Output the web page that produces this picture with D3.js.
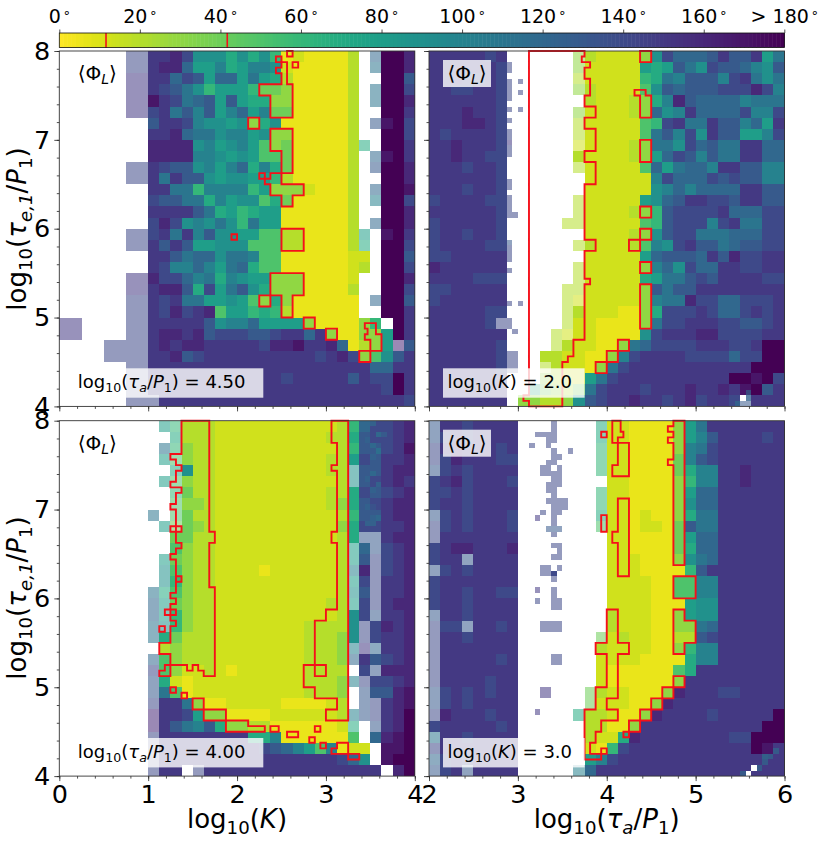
<!DOCTYPE html>
<html>
<head>
<meta charset="utf-8">
<script src="https://cdn.jsdelivr.net/npm/d3@7"></script>
<style>
  html, body { margin: 0; padding: 0; background: #fff; }
  svg { display: block; }
  text { font-family: "DejaVu Sans", sans-serif; fill: #000; }
</style>
</head>
<body>
<svg id="chart" width="830" height="843"></svg>
<script>
// cell strings: letters index angleLevels, lower case = same angle, faded, '.' = no data
const angleLevels = [6, 13, 20, 30, 40, 50, 60, 70, 80, 90, 100, 110, 120, 130, 140, 150, 160, 170, 180];

const gridTopLeft = [
  "......oo PPQOJJJH JHJGABAA AAC.mSSQ",
  "......oo PQQMIIKH IKKJBAAA AAC.lSSQ",
  "......pp PPMONIMM ILIHCAAA AAC..SSN",
  "......pp PONLJGII IGEEDAAA AAC.lSSO",
  "......pp RPOLMNIN IHHDDAAA AAC.lSSQ",
  "......pp OPLNKNIK MIKEEAAA AAC..SSP",
  "........ NPPOKJJI JDHJAAAA AAC.nRSO",
  "........ PPQMLLJK KIJDDAAA AAC..SSO",
  "........ QQQQJKIJ KIFDEAAA AACh.SSP",
  "........ QQQQKKJI JIFFEAAA AAC.mRSP",
  "......oo PONNJKIK MHKHEAAA AAC.nSSQ",
  "......oo PLPNNJIJ JIIGCAAA AAC..SSQ",
  "........ PPLLGKKK KGIDDDBA AAC.mSSR",
  "........ ONNLLHKI JJFHEAAA AAC.kSSO",
  "........ PPPPNLHI GHIIAAAA AAC..SSQ",
  "........ OQOJKJLJ GLIIAAAA AAC.mSSQ",
  "......oo OPLPKNJJ IIFFCCAA AACi.RSP",
  "......oo PNPNIIJJ JFFFCCAA AACh.SSO",
  "........ PPNLMMJL LKFFAAAA AABB.SSN",
  "........ POKKMKIL MHFFAAAA AABC.SSO",
  "......pp QOOMKLHK JIIDDDAA AAB..SSQ",
  "......pp PQQNHOIL NJHDDDAA AAC..SSO",
  "......oo POPLLIIJ IFDHDAAA AAA.mSSN",
  "......oo POQOPQFI IGHGCAAA AAA..SSP",
  "pp....oo PPPPPNJK KMIIIIDA AAADG.SP",
  "pp....oo PQQPQNOO ONNOPPMP DAADDISP",
  "....oooo PQPQQPPP PPOQQRPP QMACDIqN",
  "....oooo PPQNOPPP PPPPPPPO PQODFJNP",
  "......oo PPPPPPPP PPPPPPPP PPPPMMPP",
  "......oo PPPPPPPP PPPPOPPP PPNPOOSP",
  "......oo PPPPPPPP PPPPPPPP PPPPPOSP",
  "......oo oPPPPPPP PPPPPPPP PPPPPPPO"
];

const gridTopRight = [
  "PPPPPOP. .....dCB BBBDJOMM MNPNNPIL",
  "PPPPPPO. .....dBB BBBIHINL JONNMKJN",
  "PPPOOPO. .....cBB BBBGHLKN NNKOPLJL",
  "PPOOPPO. .....dCB BBBFJNMN NNOOOQOK",
  "PPPPPPO. ......CB BBCDHKQN MMMMKLLL",
  "PPPQPPO. .....dBB BBCDMJKP MMMMOKKO",
  "PPPQQPO. .....cBB BBBFGOPL LPNNKMIP",
  "POPPPPO. .....cBB BBBFLNKO JPNNIIKO",
  "PPQPPPO. .....bBB BBCDLLJO MNLLPPMM",
  "PPQPPOO. .....CBB BBCDIMON KNLLPPMM",
  "PPPOPPO. .....cBB BBBFMILM MKPPNNKK",
  "PPPPPPO. ......BB BBBBKOMM MONONNKK",
  "PPPOPPO. ......BB BBBBJKMK MMMMPPNN",
  "OPPPPOO. .....cBB BBBIJMNP POONPPNN",
  "PPPPPPO. .....cBB BBCDGNOO OOPMMMOO",
  "OPPPPPO. ....ccBB BBBFGNOO OKOPLLOO",
  "OPPOPPO. ......BB BBCDJNOO LLLMMMOO",
  "OPPPPOO. .....cCB BBCFKJOP NNLMNNOO",
  "OOPPPPP. ......BB BBBIMNNN MPNQOOPP",
  "QPPPPPP. .....cBB BBBDKMJO MMPPOOPP",
  "PPPPOOO. .....cBB BBBHILLN ONPPPPOO",
  "OOPPPPP. ....ccBB BBBDNLNN PPPPPPPP",
  "OPPPPPP. ....cbBB BBBDKLLQ OOMMOOOP",
  "PPPPPOO. ....cCBB BAADHOOO POMMOPOP",
  "PPPPPOo. ....cBBA AAADLOOP PPOONNOP",
  "PPPPPPP. ...cbBBA AAAJOPPP QQOOOOPP",
  "PPPPPPO. ...cCBBA ADLMOOOO PPPOOPSS",
  "PPPPPPOo ..CCBBAA DKOPPPPO OOOMOOSS",
  "PPPPPPOo ..cCBBAD LOPPPPPP PPPPPSSS",
  "PPPPPPP. ..DCBBIL OPPPPPPP PPPSSRSO",
  "PPPPPPP. .HEDCELO PPPOPPPQ PPQPRSNP",
  "PPPPPPP. DDCCDJNO PPQPPOPQ OPPOnPPP"
];

const gridBottomLeft = [
  "........ .igCCCBB BBBBBBBB BCGMOOPQ",
  "........ ..hCCCBB BBBBBBBB CCHNOOPQ",
  "........ .lgDCCBB BBBBBBBB BCGNNOPR",
  "........ .ifDCCBB BBBBBBBB CCIONPPQ",
  "........ ..hJCCBB BBBBBBBB CCjNNPQQ",
  "........ .ifDCCBB BBBBBBBB BCjNOPQP",
  "........ ..gECCBB BBBBBBBB CCHONOPQ",
  "........ ..fDDCBB BBBBBBBB CDHNOPQQ",
  "........ l.fECCBB BBBBBBBB BCGNNPQQ",
  "........ .ieEDCBB BBBBBBBB BDHOOPPQ",
  "........ ..EECCBB BBBBBBBB BCHnnPQQ",
  "........ ..FDCCBB BBBBBBBB BCiMnOPQ",
  "........ .iEDCCBB BBBBBBBB BCiNoOPQ",
  "........ .jFDCCBB BBABBBBB BCkQoOPQ",
  "........ .jGDCCBB BBBBBBBB BCiOoPPQ",
  "........ lhFDCCBB BBBBBBBB BCjNoPPQ",
  "........ miEDCCBB BBBBBBBB CCiOoPQQ",
  "........ miGDCCBB BBBBBBBB BCJOnPPQ",
  "........ ljGDCCBB BBBBBBCC CCJoOQPQ",
  "........ lHECCCBB BBBBBBCC CDJoOPPQ",
  "........ .CDCCCBB BBBBBBCC CDkpmPPQ",
  "........ mFDCCCBB BBBBBBCC CDmPNOPQ",
  "........ oFDBBCBA BBBBBBCC CC.OnQQQ",
  "........ nHBABBBB BBBBBBCC CDkoOOPQ",
  "........ nLFABBBB BBBBBBCC CD.nNNQR",
  "........ oPPLDAAB BBBBAAAA BC.noPQR",
  "........ qPPOIDDA AAABBBBB BCknoPQS",
  "........ qPNLKNHD DCCAAAAA ABh.nPQS",
  "........ oPPPPPPP PHHKAAAA AAF.MQRS",
  "........ oPPPPPPP PPONMKIF KABB.RRS",
  "........ oPPPPPPP PPPPPPPP POMJ.RSS",
  "........ oPP.oPPP PPPPPPPP PPPPP.QS"
];

const gridBottomRight = [
  "nPPOPPPP .......h BBAAAADI LPPPPPPP",
  "nOPOPPPP .......h BBAAAADI KNPPPPOP",
  "oPQPPPOP .......g BBAAAADK LOPPPPPP",
  "oOQPPPOO .......g BBAAAAEK NOPPPPPP",
  "nOPOPPPP .......g BBAAAAEH KKPPQPPP",
  "OPQOPPPO ........ BBAAAADG KKPPQPPP",
  "OOPOPPPP .......g BBAAAADI MMPPPPPP",
  "OPPOPPPP .......g BBAAAADJ MMPPPPPP",
  "nOPOPPPO .......h BBABAADH LLPPPPPP",
  "oOPOPPPO .......f BBABBAEN LLPPPPPP",
  "oPPPPPPP ........ BBAAAAEI MMPPPPPP",
  "OPQQPPPQ ........ BBAAAAEH MMPPPPPP",
  "OPPnPPPP ........ BBBAAADJ LMPPPPPP",
  "nOPOPPPP ........ BBBAAAAG NPPPPPPP",
  "OPPPPPPP ........ BBBBAAFF KKPPPPPP",
  "OPPOPPOO ........ BBBBAAFF KKPPPPPP",
  "OPPOPPPP ........ BBBBAAAI JJPPPPPP",
  "nPPOPPPP ........ CBBBAADI JJPPPPPP",
  "oOOnPPOP ........ CBBBAADD LMPPPPPP",
  "oPPOPPPP .......e BCBBAACC NOPPPPPP",
  "oPPPPPPP .......C BBBBAADG KKPPPPPP",
  "oPPPPPOP .......B BBBAAAAH KKPPPPPP",
  "oPPPPPPP .......B AAAAAAFH PPPPPPPP",
  "oPPPPOPP .......B AAAAAADP PPPPPPPP",
  "nOPOPOPP ......eC BBAAADQP PPOOPPPP",
  "nOPOPPPP ......eB BBAADQPP PPPPPPPP",
  "oQPPPOPP .....hCC BAADQPPP POPPPPPS",
  "OPPPPPOP ......CC AADPPPPP PPPPPPSS",
  "lPPOPPPP ......CB BHQPPPPP PPPOOSSS",
  "oPPPPPPP ......BA GOPPPPPP PPPPPSRP",
  "mOPOPPPP ......IK OPPPPPPP PPPPPPPP",
  "nOPnPPPP .....kMP PPPPPPPP PPPPPPPP"
];

// sparse half-size cells: [column/16, row/16, angle code]
const fineTopRight = [
  [14,2,"o"],[14,3,"o"],[14,5,"o"],[14,6,"o"],[14,7,"o"],[14,8,"o"],[14,10,"o"],[14,12,"o"],
  [14,14,"o"],[14,15,"o"],[14,16,"p"],[14,17,"o"],[14,18,"o"],[14,23,"o"],[14,24,"o"],
  [14,26,"o"],[14,27,"o"],[14,28,"o"],[14,29,"o"],[15,29,"o"],[16,5,"o"],[16,7,"o"],[16,10,"o"],
  [14,34,"n"],[14,35,"o"],[14,36,"o"],[14,37,"o"],[14,39,"o"],[14,45,"o"],[16,45,"o"],
  [14,48,"o"],[14,49,"o"],[15,50,"o"],[55,63,"l"],[56,62,"."],[57,61,"l"],[57,62,"m"]
];

const fineBottomLeft = [
  [55,0,"m"],[55,1,"m"],[56,0,"l"],[57,2,"k"],[55,3,"m"],[56,4,"l"],[57,5,"k"],[56,6,"m"],
  [56,9,"l"],[55,10,"m"],[57,11,"l"],[55,15,"m"],[56,15,"n"],[56,17,"m"],[57,17,"l"],
  [55,18,"l"],[56,18,"l"],[58,2,"m"],[56,12,"m"]
];

const fineBottomRight = [
  [22,0,"o"],[22,1,"o"],[19,2,"o"],[20,2,"o"],[21,2,"o"],[22,2,"o"],[21,3,"o"],[22,3,"o"],
  [18,4,"o"],[21,4,"o"],[22,5,"o"],[25,5,"o"],[22,6,"o"],[23,6,"o"],[21,7,"o"],[22,7,"o"],
  [20,8,"o"],[21,8,"o"],[23,8,"o"],[20,9,"o"],[21,9,"o"],[22,9,"o"],[23,9,"o"],
  [22,10,"o"],[23,10,"o"],[22,11,"o"],[23,11,"o"],[21,11,"o"],[21,12,"o"],[22,12,"o"],[22,13,"o"],
  [21,14,"o"],[22,14,"o"],[23,14,"o"],[24,14,"o"],[22,15,"o"],[23,15,"o"],[24,15,"o"],
  [20,16,"o"],[22,16,"o"],[23,16,"o"],[19,17,"p"],[22,17,"o"],[22,18,"o"],
  [21,19,"n"],[22,19,"n"],[23,19,"n"],[22,20,"o"],[22,22,"o"],[23,22,"o"],[23,23,"o"],
  [22,24,"o"],[23,24,"o"],[20,26,"o"],[21,26,"o"],[23,26,"o"],[20,27,"o"],[21,27,"o"],[22,27,"O"],
  [22,28,"o"],[19,30,"p"],[22,30,"o"],[22,31,"o"],[19,32,"o"],[22,32,"o"],[23,32,"o"],
  [22,33,"o"],[23,33,"o"],[20,36,"o"],[21,36,"o"],[22,36,"o"],[23,36,"o"],
  [20,37,"o"],[21,37,"o"],[22,37,"o"],[23,37,"o"],[22,42,"o"],[23,42,"o"],[22,43,"o"],[23,43,"o"],
  [20,48,"p"],[21,48,"p"],[20,49,"p"],[21,49,"p"],[19,52,"p"],
  [56,63,"l"],[57,63,"."],[58,62,"."],[59,62,"l"],[60,61,"l"],[60,60,"k"],[61,60,"l"],[62,59,"l"]
];

// outlines on the 1/16 grid, as x0,y0,x1,y1,...: run across to x, then along to y, and so on
const contourTopLeft = [
  [41,0,42,1],[39,1,40,2],[42,2,43,3],
  [40,2,41,6,42,12,38,8,36,6,40,4,39,3],
  [34,12,36,14],[38,14,42,22,40,18],[36,22,37,23],
  [38,22,40,24,44,26,42,28,40,26,38,24,37,23],
  [40,32,44,36],[31,33,32,34],[38,40,44,44,42,48,40,44],[36,44,38,46],
  [44,48,46,50],[48,50,50,52],[55,49,57,51,58,54,56,52,55,51,55.5,50],[54,54,56,56]
];

const contourTopRight = [
  [18,0,28,1,27.5,2,29,3,28,5,29,8,28,10,30,12,28,14,30,18,28,20,30,24,28,34,30,36,28,41,29,42,28,52,26,55,25,56,24,64,18,63,17,62],
  [38,0,40,2],[37,7,39,8,40,12,38,8],[38,16,40,20],[38,28,40,30],[38,32,40,34],[36,34,38,36],
  [38,38,40,40],[38,42,40,50],[34,52,36,54],[32,54,34,56],[30,56,32,58]
];

const contourBottomLeft = [
  [22,0,27,20,28,22,27,30,28,46,26,45,25,44,24,45,23,44,20,42,18,40,20,37,21,36,20,33,21,32,20,31,21,25,20,24,21,23,22,22,21,16,20,15,21,13,22,12,20,11,21,9,22,8,21,7,20,6],
  [19,44,20,46,18,45],[20,19,22,20],[21,28,22,29],[19,34,21,35],[18,37,19,38],
  [49,0,52,54,48,52,50,50,46,48,44,44,46,36,48,34,50,22,49,20,50,9,49,8,50,4],
  [46,44,48,46],[20,48,21,49],[22,49,23,50],
  [24,50,26,52,30,54,34,55,37,56,30,54,26,52],
  [38,55,39.5,56],[41,56,43,57],[46,55,47,56],[45,57,46,58],[47,58,48,59],
  [49,59,50,58,52,60,54,61,52,60]
];

const contourBottomRight = [
  [31,2,32,3],[33,0,34.5,2,35,3,34,4],[34,4,36,10,33,8],[34,14,36,28,34,22,33,20],[31,17,32,20],
  [44,0,46,26,44,8,43,7,44,4,43,3,44,2,43,1],[44,28,48,32],[44,34,46,36,48,40,46,42],
  [32,34,34,40,36,42,34,50,32,52,34,54,31,56,30,58,29,60,31,61,28,52,30,48,32,42,30,40],
  [31,59,32,60],[44,46,46,48],[42,48,44,50],[40,50,42,52],[38,52,40,54],[36,54,38,56],[35,56,36,57]
];

const yTicks = [4, 5, 6, 7, 8];
const xTicksLeft = [0, 1, 2, 3, 4];
const xTicksRight = [2, 3, 4, 5, 6];
const colorTicks = [0, 20, 40, 60, 80, 100, 120, 140, 160, 180];
const colorLevels = [11.6, 41.7];

// label pieces: "" plain, "i" italic, "s" subscript, "si" italic subscript
const labelPhi = [["⟨Φ", ""], ["L", "si"], ["⟩", ""]];
const labelTauA = [["log", ""], ["10", "s"], ["(", ""], ["τ", "i"], ["a", "si"], ["/", ""], ["P", "i"], ["1", "s"], [")", ""]];
const labelK = [["log", ""], ["10", "s"], ["(", ""], ["K", "i"], [")", ""]];
const labelTauE = [["log", ""], ["10", "s"], ["(", ""], ["τ", "i"], ["e,1", "si"], ["/", ""], ["P", "i"], ["1", "s"], [")", ""]];

const svg = d3.select("#chart");
const color = v => d3.interpolateViridis(1 - v / 180);
const fadedOpacity = 0.55;
const red = "#f5101a";

function mathText(sel, parts, size) {
  let shift = 0;
  parts.forEach(([str, kind]) => {
    const sub = kind[0] === "s";
    const want = sub ? size * 0.22 : 0;
    sel.append("tspan")
      .attr("dy", want - shift)
      .attr("font-size", sub ? size * 0.7 : size)
      .attr("font-style", kind.includes("i") ? "italic" : "normal")
      .text(str);
    shift = want;
  });
}

function decode(ch) {
  const upper = ch.toUpperCase();
  return { angle: angleLevels[upper.charCodeAt(0) - 65], faded: ch !== upper };
}

function drawPanel(p) {
  const x = d3.scaleLinear().domain(p.xDomain).range([p.left, p.left + 355.5]);
  const y = d3.scaleLinear().domain([4, 8]).range([p.top + 355.4, p.top]);
  const xAt = i => x(p.xDomain[0] + i / 16);
  const yAt = j => y(8 - j / 16);
  const g = svg.append("g");

  const cells = [];
  p.grid.forEach((row, r) => {
    row.replace(/ /g, "").split("").forEach((ch, c) => {
      if (ch !== ".") cells.push({ c: c * 2, r: r * 2, n: 2, ch });
    });
  });
  (p.fine || []).forEach(([c, r, ch]) => cells.push({ c, r, n: 1, ch }));

  g.selectAll("rect.cell").data(cells).join("rect")
    .attr("class", "cell")
    .attr("x", d => xAt(d.c))
    .attr("y", d => yAt(d.r))
    .attr("width", d => xAt(d.c + d.n) - xAt(d.c))
    .attr("height", d => yAt(d.r + d.n) - yAt(d.r))
    .attr("shape-rendering", "crispEdges")
    .attr("fill", d => d.ch === "." ? "#fff" : color(decode(d.ch).angle))
    .attr("fill-opacity", d => d.ch !== "." && decode(d.ch).faded ? fadedOpacity : 1);

  // red outlines
  g.selectAll("path.outline").data(p.contours).join("path")
    .attr("class", "outline")
    .attr("fill", "none")
    .attr("stroke", red)
    .attr("stroke-width", 1.9)
    .attr("stroke-linejoin", "miter")
    .attr("d", pts => {
      let d = `M${xAt(pts[0])},${yAt(pts[1])}`;
      for (let i = 2; i < pts.length; i += 2) {
        d += `H${xAt(pts[i])}V${yAt(pts[i + 1])}`;
      }
      return d + `H${xAt(pts[0])}Z`;
    });

  // label boxes
  const boxes = [
    { bx: 14, by: 9, w: 48, h: 27, parts: labelPhi, size: 20, anchor: "middle" },
    { bx: 14, by: 317.3, w: p.boxWidth, h: 29.4, parts: p.note, size: 18, anchor: "start", tail: p.noteValue }
  ];
  boxes.forEach(b => {
    g.append("rect")
      .attr("x", p.left + b.bx).attr("y", p.top + b.by)
      .attr("width", b.w).attr("height", b.h)
      .attr("fill", "#fff").attr("fill-opacity", 0.8);
    const t = g.append("text")
      .attr("x", b.anchor === "middle" ? p.left + b.bx + b.w / 2 : p.left + b.bx + 4.5)
      .attr("y", p.top + b.by + 20)
      .attr("text-anchor", b.anchor);
    mathText(t, b.parts, b.size);
    if (b.tail) {
      t.append("tspan").attr("dy", 0).attr("font-size", b.size).text(b.tail);
    }
  });

  // axes, minor then major
  const bottom = p.top + 355.4;
  const minorX = d3.range(p.xDomain[0], p.xDomain[1] + 0.01, 0.2);
  const minorY = d3.range(4, 8.01, 0.2);
  g.append("g").attr("transform", `translate(0,${bottom})`)
    .call(d3.axisBottom(x).tickValues(minorX).tickSize(2.5).tickFormat(""));
  g.append("g").attr("transform", `translate(${p.left},0)`)
    .call(d3.axisLeft(y).tickValues(minorY).tickSize(2.5).tickFormat(""));
  g.append("g").attr("transform", `translate(0,${bottom})`)
    .call(d3.axisBottom(x).tickValues(p.xTicks).tickSize(5).tickPadding(4)
      .tickFormat(p.showX ? d3.format("d") : ""));
  g.append("g").attr("transform", `translate(${p.left},0)`)
    .call(d3.axisLeft(y).tickValues(yTicks).tickSize(5).tickPadding(4)
      .tickFormat(p.showY ? d3.format("d") : ""));
  g.selectAll(".tick text").attr("font-size", 25.5).attr("font-family", "DejaVu Sans");
  g.selectAll(".tick line").attr("stroke", "#222").attr("stroke-width", 0.8);
  g.selectAll(".domain").remove();

  g.append("rect")
    .attr("x", p.left).attr("y", p.top)
    .attr("width", 355.5).attr("height", 355.4)
    .attr("fill", "none").attr("stroke", "#333").attr("stroke-width", 0.9);
}

const panels = [
  { left: 59.3, top: 51, xDomain: [0, 4], xTicks: xTicksLeft, grid: gridTopLeft, contours: contourTopLeft,
    note: labelTauA, noteValue: " = 4.50", boxWidth: 190, showX: false, showY: true },
  { left: 429, top: 51, xDomain: [2, 6], xTicks: xTicksRight, grid: gridTopRight, fine: fineTopRight, contours: contourTopRight,
    note: labelK, noteValue: " = 2.0", boxWidth: 141.6, showX: false, showY: false },
  { left: 59.3, top: 420.7, xDomain: [0, 4], xTicks: xTicksLeft, grid: gridBottomLeft, fine: fineBottomLeft, contours: contourBottomLeft,
    note: labelTauA, noteValue: " = 4.00", boxWidth: 190, showX: true, showY: true },
  { left: 429, top: 420.7, xDomain: [2, 6], xTicks: xTicksRight, grid: gridBottomRight, fine: fineBottomRight, contours: contourBottomRight,
    note: labelK, noteValue: " = 3.0", boxWidth: 141.6, showX: true, showY: false }
];
panels.forEach(drawPanel);

// axis titles
const axisTitles = [
  { parts: labelK, x: 237, y: 828, rotate: false },
  { parts: labelTauA, x: 606.7, y: 828, rotate: false },
  { parts: labelTauE, x: 26, y: 229, rotate: true },
  { parts: labelTauE, x: 26, y: 598, rotate: true }
];
axisTitles.forEach(a => {
  const t = svg.append("text")
    .attr("text-anchor", "middle")
    .attr("transform", a.rotate ? `translate(${a.x},${a.y}) rotate(-90)` : `translate(${a.x},${a.y})`);
  mathText(t, a.parts, 26);
});

// colour bar
const cbX = d3.scaleLinear().domain([0, 180]).range([59.3, 784.3]);
const cb = svg.append("g");
cb.selectAll("rect").data(d3.range(0, 180)).join("rect")
  .attr("x", d => cbX(d))
  .attr("y", 33)
  .attr("width", d => cbX(d + 1) - cbX(d) + 0.5)
  .attr("height", 14.5)
  .attr("fill", d => color(d + 0.5));
cb.selectAll("line.level").data(colorLevels).join("line")
  .attr("class", "level")
  .attr("x1", d => cbX(d)).attr("x2", d => cbX(d))
  .attr("y1", 33).attr("y2", 47.5)
  .attr("stroke", red).attr("stroke-width", 1.6);
cb.append("rect")
  .attr("x", cbX(0)).attr("y", 33).attr("width", cbX(180) - cbX(0)).attr("height", 14.5)
  .attr("fill", "none").attr("stroke", "#111").attr("stroke-width", 0.8);
const cbAxis = cb.append("g").attr("transform", "translate(0,33)")
  .call(d3.axisTop(cbX).tickValues(colorTicks).tickSize(3.5).tickFormat(""));
cbAxis.select(".domain").remove();
cbAxis.selectAll("line").attr("stroke", "#222").attr("stroke-width", 0.8);
cbAxis.selectAll(".tick").each(function (d) {
  const t = d3.select(this).append("text")
    .attr("y", -10.5).attr("text-anchor", "middle").attr("fill", "#000");
  t.append("tspan").attr("font-size", 19).text(d === 180 ? "> 180" : d);
  t.append("tspan").attr("font-size", 13).attr("dy", -6).attr("dx", 2).text("∘");
});
</script>
</body>
</html>
